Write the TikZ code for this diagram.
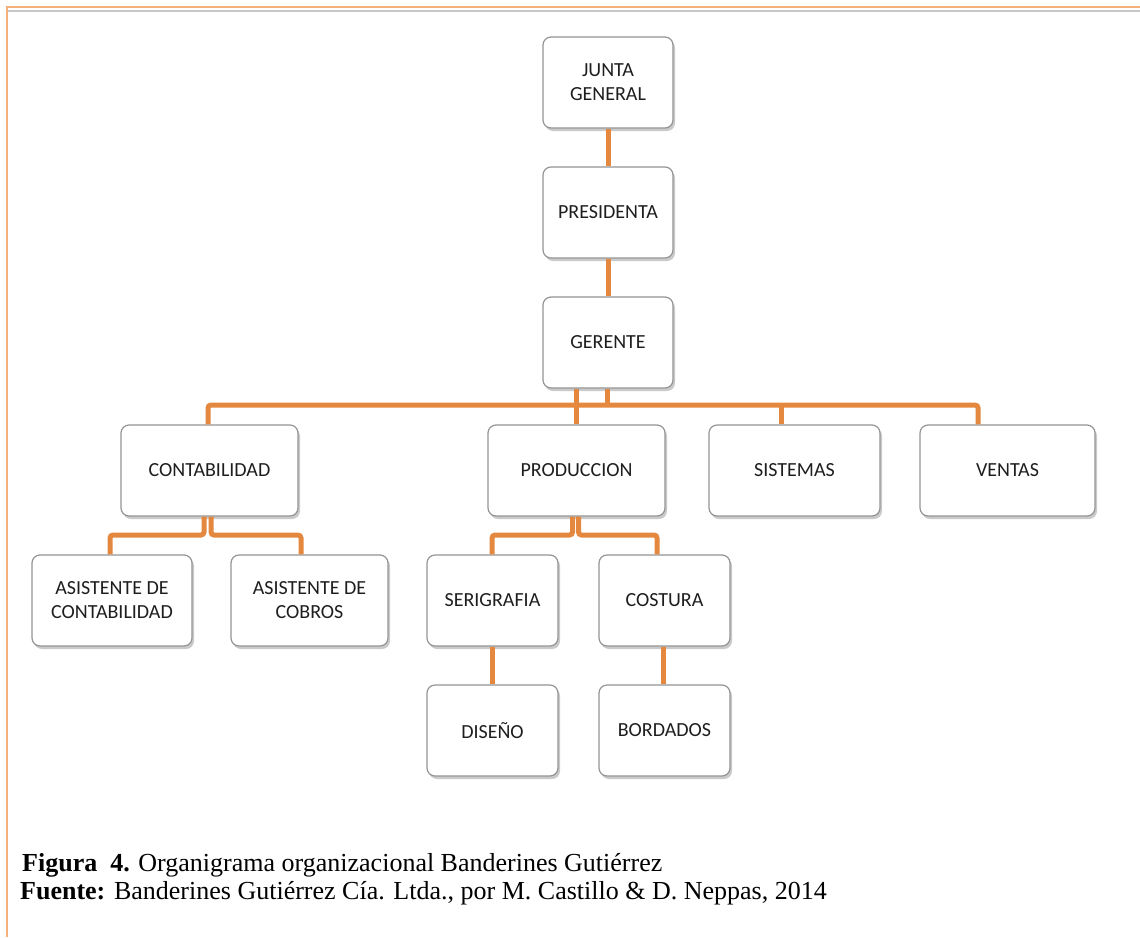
\documentclass[tikz,border=0pt]{standalone}
\usepackage{fontspec}
\setmainfont{Liberation Serif}
\newfontfamily\boxfont{Carlito}
\usetikzlibrary{shadows}
\definecolor{linkorange}{HTML}{E4873F}
\definecolor{frameorange}{HTML}{F3B07A}
\definecolor{framegray}{HTML}{C8C8C8}
\definecolor{boxline}{HTML}{949494}
\definecolor{boxtext}{HTML}{1E1E1E}
\tikzset{
  unit/.style={draw=boxline, line width=1.2pt, fill=white, rounded corners=8pt,
    minimum height=91pt, inner sep=2pt, align=center,
    font=\boxfont\fontsize{20}{24}\selectfont, text=boxtext,
    drop shadow={shadow xshift=2pt, shadow yshift=-3pt, opacity=0.35, fill=black!60}},
  link/.style={draw=linkorange, line width=5pt, rounded corners=3pt},
  caption/.style={anchor=base west, inner sep=0pt, font=\fontsize{26}{28}\selectfont},
}
\begin{document}
\begin{tikzpicture}[x=1pt, y=-1pt]
\useasboundingbox (0,0) rectangle (1140,937);
% page frame
\draw[frameorange, line width=2pt] (6.5,937) -- (6.5,6.5) -- (1140,6.5);
\draw[framegray, line width=2pt] (7.5,10.5) -- (1140,10.5);

% units
\node[unit, minimum width=130pt] (jg)   at (608,82.5)   {JUNTA\\GENERAL};
\node[unit, minimum width=130pt] (pres) at (608,212.5)  {PRESIDENTA};
\node[unit, minimum width=130pt] (ger)  at (608,342.5)  {GERENTE};
\node[unit, minimum width=177pt] (cont) at (209.5,470.5) {CONTABILIDAD};
\node[unit, minimum width=177pt] (prod) at (576.5,470.5) {PRODUCCION};
\node[unit, minimum width=171pt] (sis)  at (794.5,470.5) {SISTEMAS};
\node[unit, minimum width=175pt] (ven)  at (1007.5,470.5) {VENTAS};
\node[unit, minimum width=160pt] (ac)   at (112,600.5)   {ASISTENTE DE\\CONTABILIDAD};
\node[unit, minimum width=157pt] (acob) at (309.5,600.5) {ASISTENTE DE\\COBROS};
\node[unit, minimum width=131pt] (ser)  at (492.5,600.5) {SERIGRAFIA};
\node[unit, minimum width=131pt] (cos)  at (664.5,600.5) {COSTURA};
\node[unit, minimum width=131pt] (dis)  at (492.5,730.5) {DISEÑO};
\node[unit, minimum width=131pt] (bor)  at (664.5,730.5) {BORDADOS};

% bus and turning points
\coordinate (busL) at (208,405);
\coordinate (busR) at (978,405);
\coordinate (busS) at (781,405);
\coordinate (busG) at (607,405);
\coordinate (cL) at (110,535);
\coordinate (cR) at (301,535);
\coordinate (pL) at (492,535);
\coordinate (pR) at (657,535);

% links
\draw[link] (jg.south) -- (pres.north);
\draw[link] (pres.south) -- (ger.north);
\draw[link] (cont.north -| busL) |- (busR) -- (ven.north -| busR);
\draw[link] (ger.south -| busG) -- (busG);
\draw[link] (busS) -- (sis.north -| busS);
\draw[link] (ger.south -| prod.north) -- (prod.north);
\draw[link] ([xshift=-4pt]cont.south -| busL) |- (cL) -- (ac.north -| cL);
\draw[link] ([xshift=3pt]cont.south -| busL) |- (cR) -- (acob.north -| cR);
\draw[link] ([xshift=-4pt]prod.south) |- (pL) -- (ser.north -| pL);
\draw[link] ([xshift=2pt]prod.south) |- (pR) -- (cos.north -| pR);
\draw[link] (ser.south) -- (dis.north);
\draw[link] ([xshift=-1.5pt]cos.south) -- ([xshift=-1.5pt]bor.north);

% caption
\node[caption] (cap1) at (22,871)
  {\textbf{Figura\ \ 4.} Organigrama organizacional Banderines Gutiérrez};
\node[caption] (cap2) at (20,899)
  {\textbf{Fuente:} Banderines Gutiérrez Cía. Ltda., por M. Castillo \& D. Neppas, 2014};
\end{tikzpicture}
\end{document}
